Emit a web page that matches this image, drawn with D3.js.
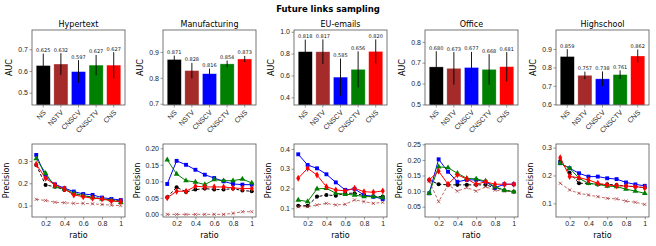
<!DOCTYPE html>
<html>
<head>
<meta charset="utf-8">
<script src="https://cdn.jsdelivr.net/npm/d3@7"></script>
<style>
  body { margin: 0; background: #fff; }
  svg { font-family: "DejaVu Sans", sans-serif; }
</style>
</head>
<body>
<div id="chart"></div>
<script>
// datasets and methods
const datasets = ["Hypertext", "Manufacturing", "EU-emails", "Office", "Highschool"];
const methods = ["NS", "NSTV", "CNSCV", "CNSCTV", "CNS"];
const methodColors = ["black", "#a52a2a", "blue", "green", "red"];

// AUC bars (top row)
const aucValues = [
  [0.625, 0.632, 0.597, 0.627, 0.627],
  [0.871, 0.828, 0.816, 0.854, 0.873],
  [0.818, 0.817, 0.585, 0.656, 0.820],
  [0.680, 0.673, 0.677, 0.668, 0.681],
  [0.859, 0.757, 0.738, 0.761, 0.862]
];
const aucErrors = [
  [0.055, 0.050, 0.053, 0.047, 0.060],
  [0.015, 0.030, 0.020, 0.013, 0.012],
  [0.110, 0.113, 0.170, 0.165, 0.110],
  [0.075, 0.078, 0.075, 0.073, 0.070],
  [0.040, 0.020, 0.040, 0.023, 0.035]
];
const aucLims = [[0.443, 0.789], [0.695, 0.985], [0.33, 1.016], [0.497, 0.857], [0.596, 1.003]];
const aucTicks = [[0.5, 0.6, 0.7], [0.7, 0.8, 0.9], [0.4, 0.6, 0.8, 1.0], [0.5, 0.6, 0.7, 0.8], [0.6, 0.7, 0.8, 0.9]];

// precision vs ratio (bottom row)
const ratios = [0.1, 0.2, 0.3, 0.4, 0.5, 0.6, 0.7, 0.8, 0.9, 1.0];
const ratioTicks = [0.2, 0.4, 0.6, 0.8, 1.0];
const precNS = [
  [0.282, 0.192, 0.185, 0.170, 0.155, 0.145, 0.138, 0.130, 0.125, 0.120],
  [0.052, 0.082, 0.068, 0.075, 0.078, 0.075, 0.075, 0.078, 0.072, 0.070],
  [0.113, 0.113, 0.159, 0.167, 0.164, 0.176, 0.176, 0.164, 0.159, 0.159],
  [0.136, 0.122, 0.120, 0.120, 0.120, 0.120, 0.120, 0.111, 0.103, 0.098],
  [0.252, 0.210, 0.172, 0.172, 0.168, 0.168, 0.166, 0.162, 0.160, 0.156]
];
const precNSTV = [
  [0.128, 0.123, 0.115, 0.113, 0.110, 0.110, 0.108, 0.105, 0.102, 0.100],
  [0.000, 0.000, 0.000, 0.000, 0.000, 0.000, 0.000, 0.003, 0.008, 0.008],
  [0.108, 0.108, 0.117, 0.125, 0.117, 0.120, 0.142, 0.134, 0.125, 0.130],
  [0.132, 0.066, 0.120, 0.100, 0.111, 0.100, 0.114, 0.103, 0.100, 0.098],
  [0.172, 0.148, 0.136, 0.130, 0.124, 0.118, 0.116, 0.108, 0.104, 0.096]
];
const precCNSCV = [
  [0.327, 0.230, 0.195, 0.178, 0.163, 0.152, 0.148, 0.136, 0.130, 0.125],
  [0.092, 0.162, 0.150, 0.135, 0.120, 0.110, 0.100, 0.092, 0.090, 0.090],
  [0.373, 0.319, 0.302, 0.272, 0.231, 0.193, 0.198, 0.167, 0.159, 0.147],
  [0.093, 0.202, 0.162, 0.130, 0.136, 0.136, 0.130, 0.111, 0.122, 0.122],
  [0.244, 0.226, 0.208, 0.196, 0.196, 0.190, 0.187, 0.175, 0.168, 0.163]
];
const precCNSCTV = [
  [0.310, 0.245, 0.185, 0.175, 0.155, 0.145, 0.136, 0.130, 0.125, 0.115],
  [0.165, 0.122, 0.102, 0.098, 0.090, 0.105, 0.102, 0.102, 0.107, 0.095],
  [0.142, 0.134, 0.198, 0.201, 0.176, 0.171, 0.167, 0.159, 0.159, 0.154],
  [0.093, 0.178, 0.175, 0.157, 0.141, 0.139, 0.132, 0.114, 0.103, 0.098],
  [0.244, 0.226, 0.190, 0.172, 0.168, 0.162, 0.160, 0.151, 0.144, 0.136]
];
const precCNS = [
  [0.285, 0.222, 0.192, 0.175, 0.148, 0.140, 0.133, 0.130, 0.121, 0.118],
  [0.050, 0.070, 0.070, 0.085, 0.083, 0.083, 0.083, 0.080, 0.078, 0.078],
  [0.252, 0.302, 0.268, 0.209, 0.193, 0.188, 0.201, 0.184, 0.181, 0.188],
  [0.136, 0.164, 0.122, 0.152, 0.139, 0.122, 0.130, 0.122, 0.122, 0.122],
  [0.264, 0.196, 0.192, 0.184, 0.172, 0.166, 0.163, 0.162, 0.160, 0.156]
];
const precCNSErr = [0.008, 0.004, 0.008, 0.006, 0.008];
const precLims = [[0.049, 0.376], [-0.008, 0.213], [0.056, 0.425], [0.017, 0.251], [0.051, 0.313]];
const precTicks = [[0.1, 0.2, 0.3], [0.0, 0.05, 0.10, 0.15, 0.20], [0.1, 0.2, 0.3, 0.4], [0.05, 0.10, 0.15, 0.20, 0.25], [0.1, 0.2, 0.3]];
const precFormats = [".1f", ".2f", ".1f", ".2f", ".1f"];

const width = 656, height = 246;
const panelW = 93;
const topY0 = 30, topY1 = 105;
const botY0 = 144, botY1 = 217;
const spine = "#555";

const svg = d3.select("#chart").append("svg")
  .attr("width", width)
  .attr("height", height);

svg.append("text")
  .attr("x", 328).attr("y", 12)
  .attr("text-anchor", "middle")
  .attr("font-size", 8.5)
  .attr("font-weight", "bold")
  .text("Future links sampling");

const lineSeries = [precNS, precNSTV, precCNSCV, precCNSCTV, precCNS];
const symbols = [d3.symbolCircle, null, d3.symbolSquare, d3.symbolTriangle, d3.symbolDiamond];
const symbolSizes = [13, 0, 15, 14, 14];
const dashes = ["3,2", "3,2", null, null, null];

function styleAxis(g) {
  g.select(".domain").remove();
  g.selectAll(".tick line").attr("stroke", spine).attr("stroke-width", 0.6);
  g.selectAll(".tick text").attr("fill", "#222").attr("font-size", 7);
}

datasets.forEach((name, i) => {
  const left = 32 + i * 131;

  // ---------- bar chart ----------
  const x = d3.scaleBand().domain(methods)
    .range([left, left + panelW])
    .paddingInner(0.2).paddingOuter(0.24);
  const y = d3.scaleLinear().domain(aucLims[i]).range([topY1, topY0]);

  const top = svg.append("g");

  top.selectAll("rect.bar")
    .data(methods)
    .enter().append("rect")
    .attr("class", "bar")
    .attr("x", m => x(m))
    .attr("width", x.bandwidth())
    .attr("y", (m, j) => y(aucValues[i][j]))
    .attr("height", (m, j) => topY1 - y(aucValues[i][j]))
    .attr("fill", (m, j) => methodColors[j])
    .attr("stroke", "#fff").attr("stroke-opacity", 0.5).attr("stroke-width", 0.6);

  top.selectAll("line.err")
    .data(methods)
    .enter().append("line")
    .attr("class", "err")
    .attr("x1", m => x(m) + x.bandwidth() / 2)
    .attr("x2", m => x(m) + x.bandwidth() / 2)
    .attr("y1", (m, j) => Math.min(topY1, y(aucValues[i][j] - aucErrors[i][j])))
    .attr("y2", (m, j) => y(aucValues[i][j] + aucErrors[i][j]))
    .attr("stroke", "black").attr("stroke-width", 0.9);

  top.selectAll("text.val")
    .data(methods)
    .enter().append("text")
    .attr("class", "val")
    .attr("x", m => x(m) + x.bandwidth() / 2)
    .attr("y", (m, j) => y(aucValues[i][j] + aucErrors[i][j]) - 1.5)
    .attr("text-anchor", "middle")
    .attr("font-size", 5)
    .attr("fill", "#111")
    .text((m, j) => aucValues[i][j].toFixed(3));

  top.append("g")
    .attr("transform", `translate(${left},0)`)
    .call(d3.axisLeft(y).tickValues(aucTicks[i]).tickSize(2.5).tickPadding(1.5).tickFormat(d3.format(".1f")))
    .call(styleAxis);

  const xa = top.append("g")
    .attr("transform", `translate(0,${topY1})`)
    .call(d3.axisBottom(x).tickSize(2.5))
    .call(styleAxis);
  xa.selectAll(".tick text")
    .attr("y", 0).attr("dy", 0)
    .attr("text-anchor", "end")
    .attr("transform", "translate(3,8) rotate(-45)");

  top.append("rect")
    .attr("x", left).attr("y", topY0)
    .attr("width", panelW).attr("height", topY1 - topY0)
    .attr("fill", "none").attr("stroke", spine).attr("stroke-width", 0.8);

  top.append("text")
    .attr("x", left + panelW / 2).attr("y", topY0 - 3)
    .attr("text-anchor", "middle")
    .attr("font-size", 8)
    .text(name);

  top.append("text")
    .attr("transform", `translate(${left - 20},${(topY0 + topY1) / 2}) rotate(-90)`)
    .attr("text-anchor", "middle")
    .attr("font-size", 8)
    .text("AUC");

  // ---------- precision lines ----------
  const xl = d3.scaleLinear().domain([0.055, 1.045]).range([left, left + panelW]);
  const yl = d3.scaleLinear().domain(precLims[i]).range([botY1, botY0]);
  const bot = svg.append("g");

  bot.append("g")
    .attr("transform", `translate(${left},0)`)
    .call(d3.axisLeft(yl).tickValues(precTicks[i]).tickSize(2.5).tickPadding(1.5).tickFormat(d3.format(precFormats[i])))
    .call(styleAxis);

  bot.append("g")
    .attr("transform", `translate(0,${botY1})`)
    .call(d3.axisBottom(xl).tickValues(ratioTicks).tickSize(2.5).tickPadding(1.5)
      .tickFormat(d => d === 1 ? "1" : d.toFixed(1)))
    .call(styleAxis);

  const line = d3.line().x((d, k) => xl(ratios[k])).y(d => yl(d));

  lineSeries.forEach((series, s) => {
    const vals = series[i];
    const col = methodColors[s];
    const g = bot.append("g");
    g.append("path")
      .attr("d", line(vals))
      .attr("fill", "none")
      .attr("stroke", col)
      .attr("stroke-width", s === 1 ? 0.7 : 1)
      .attr("stroke-dasharray", dashes[s]);

    if (s === 4) {
      g.selectAll("line.perr")
        .data(vals)
        .enter().append("line")
        .attr("x1", (d, k) => xl(ratios[k]))
        .attr("x2", (d, k) => xl(ratios[k]))
        .attr("y1", d => yl(d - precCNSErr[i]))
        .attr("y2", d => yl(d + precCNSErr[i]))
        .attr("stroke", col).attr("stroke-width", 0.9);
    }

    if (symbols[s]) {
      g.selectAll("path.mk")
        .data(vals)
        .enter().append("path")
        .attr("class", "mk")
        .attr("transform", (d, k) => `translate(${xl(ratios[k])},${yl(d)})`)
        .attr("d", d3.symbol().type(symbols[s]).size(symbolSizes[s]))
        .attr("fill", col);
    } else {
      // x markers for NSTV
      g.selectAll("path.mk")
        .data(vals)
        .enter().append("path")
        .attr("class", "mk")
        .attr("transform", (d, k) => `translate(${xl(ratios[k])},${yl(d)})`)
        .attr("d", "M-1.6,-1.6L1.6,1.6M-1.6,1.6L1.6,-1.6")
        .attr("stroke", col).attr("stroke-width", 0.7).attr("fill", "none");
    }
  });

  bot.append("rect")
    .attr("x", left).attr("y", botY0)
    .attr("width", panelW).attr("height", botY1 - botY0)
    .attr("fill", "none").attr("stroke", spine).attr("stroke-width", 0.8);

  bot.append("text")
    .attr("transform", `translate(${left - 23},${(botY0 + botY1) / 2}) rotate(-90)`)
    .attr("text-anchor", "middle")
    .attr("font-size", 8)
    .text("Precision");

  bot.append("text")
    .attr("x", left + panelW / 2).attr("y", 238)
    .attr("text-anchor", "middle")
    .attr("font-size", 8)
    .text("ratio");
});
</script>
</body>
</html>
